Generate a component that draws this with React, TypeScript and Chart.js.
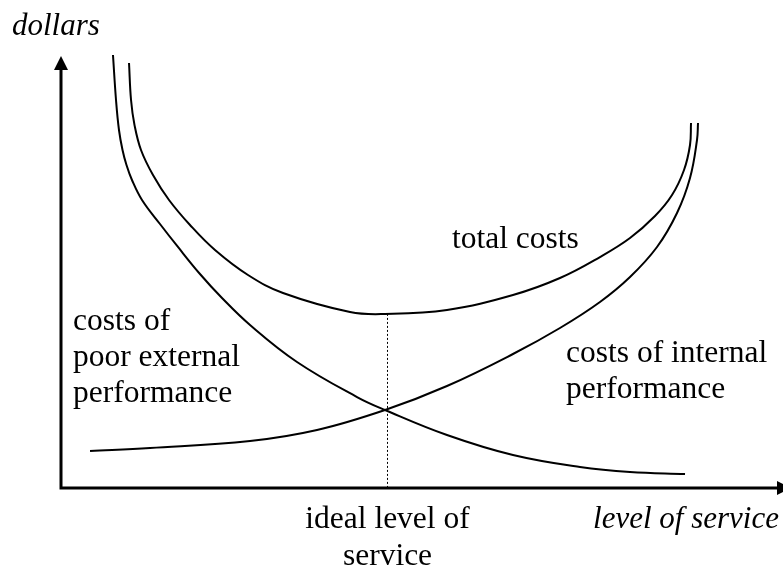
import React, { useEffect, useRef } from "react";
import { Chart, registerables } from "chart.js";

Chart.register(...registerables);

// Level of service (0-100) and dollars (0-100)
const externalX = [7.2, 7.62, 8.03, 8.52, 9.07, 9.83, 11.22, 13.71, 16.2, 19.25, 22.3, 26.18, 32.69, 41.0, 44.88, 53.46, 62.6, 71.88, 78.81, 86.43];
const externalY = [100.23, 89.81, 82.87, 78.24, 74.77, 71.3, 66.67, 61.11, 55.79, 49.54, 43.98, 37.73, 29.17, 21.06, 18.06, 12.27, 7.64, 4.86, 3.7, 3.24];

const internalX = [4.02, 12.33, 26.18, 35.46, 44.88, 53.46, 62.6, 69.11, 74.65, 78.81, 82.55, 85.32, 87.12, 88.09, 88.23];
const internalY = [8.56, 9.26, 10.88, 13.43, 18.06, 23.61, 31.02, 37.04, 43.06, 48.84, 55.79, 63.66, 71.76, 80.56, 84.49];

const totalX = [9.42, 9.7, 10.18, 11.08, 12.74, 14.96, 17.87, 21.33, 25.9, 30.75, 40.03, 44.88, 53.46, 62.6, 69.11, 74.65, 78.81, 82.27, 84.63, 86.29, 87.12, 87.26];
const totalY = [98.38, 89.81, 84.03, 78.24, 72.45, 66.67, 60.88, 55.09, 49.31, 45.14, 40.74, 40.28, 41.2, 44.68, 48.61, 53.47, 57.87, 62.96, 67.82, 73.61, 79.4, 84.49];

const idealLevel = 45.1;
const idealCost = 40.3;

const yAxisTitle = "dollars";
const xAxisTitle = "level of service";
const totalLabel = ["total costs"];
const externalLabel = ["costs of", "poor external", "performance"];
const internalLabel = ["costs of internal", "performance"];
const idealLabel = ["ideal level of", "service"];

const toPoints = (xs: number[], ys: number[]) => xs.map((x, i) => ({ x, y: ys[i] }));

const FONT = "31.5px 'Liberation Serif', 'Times New Roman', serif";
const IFONT = "italic 31px 'Liberation Serif', 'Times New Roman', serif";

const decorPlugin = {
  id: "decor",
  beforeDatasetsDraw(chart: any) {
    const { ctx, chartArea, scales } = chart;
    const xs = scales.x;
    const ys = scales.y;
    const x0 = chartArea.left;
    const y0 = chartArea.bottom;
    ctx.save();
    ctx.strokeStyle = "#000";
    ctx.fillStyle = "#000";
    // axes
    ctx.lineWidth = 3;
    ctx.beginPath();
    ctx.moveTo(x0, y0 + 1.5);
    ctx.lineTo(x0, chartArea.top + 12);
    ctx.moveTo(x0 - 1.5, y0);
    ctx.lineTo(chartArea.right - 4, y0);
    ctx.stroke();
    // arrow heads
    ctx.beginPath();
    ctx.moveTo(x0, chartArea.top);
    ctx.lineTo(x0 - 7, chartArea.top + 14);
    ctx.lineTo(x0 + 7, chartArea.top + 14);
    ctx.closePath();
    ctx.fill();
    ctx.beginPath();
    ctx.moveTo(chartArea.right + 8, y0);
    ctx.lineTo(chartArea.right - 6, y0 - 7);
    ctx.lineTo(chartArea.right - 6, y0 + 7);
    ctx.closePath();
    ctx.fill();
    // dotted ideal line
    const ix = Math.round(xs.getPixelForValue(idealLevel)) + 0.5;
    ctx.lineWidth = 1;
    ctx.setLineDash([2, 2]);
    ctx.beginPath();
    ctx.moveTo(ix, ys.getPixelForValue(idealCost));
    ctx.lineTo(ix, y0);
    ctx.stroke();
    ctx.setLineDash([]);

    // texts
    ctx.textBaseline = "alphabetic";
    ctx.font = IFONT;
    ctx.textAlign = "left";
    ctx.fillText(yAxisTitle, 12, 35);
    ctx.textAlign = "right";
    ctx.fillText(xAxisTitle, 779, 528);

    ctx.font = FONT;
    ctx.textAlign = "left";
    totalLabel.forEach((t, i) => ctx.fillText(t, 452, 248 + i * 36));
    externalLabel.forEach((t, i) => ctx.fillText(t, 73, 330 + i * 36));
    internalLabel.forEach((t, i) => ctx.fillText(t, 566, 362 + i * 36));
    ctx.textAlign = "center";
    idealLabel.forEach((t, i) => ctx.fillText(t, ix, 528 + i * 37));
    ctx.restore();
  },
};

export default function App() {
  const ref = useRef<HTMLCanvasElement>(null);
  useEffect(() => {
    if (!ref.current) return;
    const lineStyle = {
      showLine: true,
      pointRadius: 0,
      borderColor: "#000",
      backgroundColor: "#000",
      borderWidth: 2,
      tension: 0.4,
      clip: false as any,
      fill: false,
    };
    const chart = new Chart(ref.current, {
      type: "scatter",
      data: {
        datasets: [
          { label: "costs of poor external performance", data: toPoints(externalX, externalY), ...lineStyle },
          { label: "costs of internal performance", data: toPoints(internalX, internalY), ...lineStyle },
          { label: "total costs", data: toPoints(totalX, totalY), ...lineStyle },
        ],
      },
      options: {
        animation: false,
        responsive: false,
        maintainAspectRatio: false,
        layout: { padding: { left: 61, right: 0, top: 56, bottom: 81 } },
        scales: {
          x: { type: "linear", min: 0, max: 100, display: false },
          y: { type: "linear", min: 0, max: 100, display: false },
        },
        plugins: { legend: { display: false }, tooltip: { enabled: false } },
      },
      plugins: [decorPlugin],
    });
    return () => chart.destroy();
  }, []);
  return (
    <div style={{ position: "absolute", left: 0, top: 0, width: 783, height: 569, background: "#fff" }}>
      <canvas ref={ref} width={783} height={569} style={{ display: "block" }} />
    </div>
  );
}
